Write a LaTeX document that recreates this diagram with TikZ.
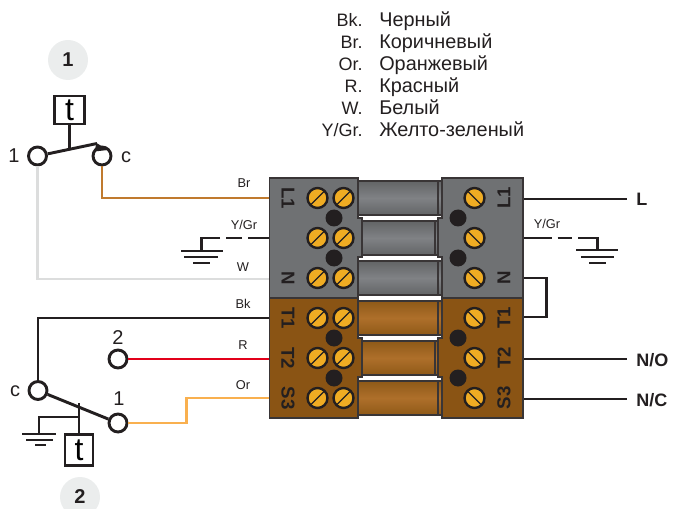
\documentclass[tikz,border=0pt]{standalone}
\usepackage{fontspec}
\setmainfont{Liberation Sans}
\definecolor{boxgrey}{HTML}{6F7173}
\definecolor{boxbrown}{HTML}{8A5414}
\definecolor{pipegrey}{HTML}{808285}
\definecolor{pipedark}{HTML}{626466}
\definecolor{pipebrown}{HTML}{AE6F2A}
\definecolor{pipedeep}{HTML}{8F5A18}
\definecolor{screwcol}{HTML}{F0AC23}
\definecolor{wireBr}{HTML}{C07A2E}
\definecolor{wireW}{HTML}{DCDDDD}
\definecolor{wireR}{HTML}{E2001A}
\definecolor{wireOr}{HTML}{F9B04F}
\definecolor{badgecol}{HTML}{EBEDED}
\definecolor{inkcol}{HTML}{231F20}
\usetikzlibrary{positioning}
\tikzset{
  wire/.style={line width=2.2pt,draw=inkcol},
  contact/.style={circle,draw=inkcol,fill=white,line width=2.2pt,minimum size=13.5pt,inner sep=0pt},
  tbox/.style={rectangle,draw=inkcol,line width=2.2pt,fill=white,inner sep=0pt,font=\fontsize{24}{24}\selectfont},
  badge/.style={circle,fill=badgecol,minimum size=30pt,inner sep=0pt,font=\fontsize{15}{15}\selectfont\bfseries,text=inkcol},
  pinlabel/.style={font=\fontsize{15}{15}\selectfont,text=inkcol,inner sep=0pt},
  wirelabel/.style={font=\fontsize{9.6}{9.6}\selectfont,text=inkcol,inner sep=0pt},
  endlabel/.style={font=\fontsize{13.5}{13.5}\selectfont\bfseries,text=inkcol,inner sep=0pt,anchor=west},
  termlabel/.style={font=\fontsize{14}{14}\selectfont\bfseries,text=inkcol,inner sep=0pt},
  legkey/.style={font=\fontsize{13.5}{13.5}\selectfont,text=inkcol,inner sep=0pt,anchor=base east},
  legtext/.style={font=\fontsize{14.9}{14.9}\selectfont,text=inkcol,inner sep=0pt,anchor=base west},
  block/.style={draw=inkcol!90,line width=1pt},
  earthdash/.style={wire,dash pattern=on 16.5pt off 4.5pt on 12pt off 4.5pt on 100pt},
}
\begin{document}
\begin{tikzpicture}[x=0.75pt,y=-0.75pt]
\path [use as bounding box,clip] (0,0) rectangle (673,509);
% legend
\foreach \y/\k/\v [count=\n] in {27/Bk./Черный,49/Br./Коричневый,71/Or./Оранжевый,93/R./Красный,115/W./Белый,137/Y\slash Gr./Желто-зеленый} {
  \node [legkey] (key\n) at (363,\y) {\k};
  \node [legtext] (val\n) at (379,\y) {\v};
}
% wire ends on the blocks
\coordinate (inBr) at (270,198);
\coordinate (inYG) at (270,238);
\coordinate (inW) at (270,279);
\coordinate (inBk) at (270,318);
\coordinate (inR) at (270,359);
\coordinate (inOr) at (270,398);
\coordinate (outL) at (523,199);
\coordinate (outYG) at (523,238);
\coordinate (outN) at (523,278);
\coordinate (outT) at (523,317);
\coordinate (outNO) at (523,359);
\coordinate (outNC) at (523,399);
% switch 1
\node [badge] (badge1) at (68,60) {1};
\node [tbox,minimum width=23pt,minimum height=21pt] (tbox1) at (69.5,110) {t};
\node [contact] (one1) at (37.5,156) {};
\node [contact] (com1) at (102,156) {};
\node [pinlabel] (lab1a) at (14,156) {1};
\node [pinlabel] (lab1c) at (126,157) {c};
\coordinate (tip1) at (97,143.5);
\coordinate (arm1) at (69.5,149.5);
\coordinate (bendW) at (37.5,279);
\draw [wire,draw=wireW] (one1) -- (bendW) -- (inW);
\draw [wire,draw=wireBr] (com1) |- (inBr);
\draw [wire] (tbox1) -- (arm1);
\draw [wire] (one1) -- (tip1);
\fill [inkcol] (96.5,143) -- (108,150) -- (94.5,151.5) -- cycle;
% switch 2
\node [contact] (com2) at (38,390.5) {};
\node [contact] (two2) at (118,359) {};
\node [contact] (one2) at (118,423) {};
\node [pinlabel] (lab2c) at (15,391) {c};
\node [pinlabel] (lab2b) at (118,338) {2};
\node [pinlabel] (lab2a) at (119,399) {1};
\node [tbox,minimum width=21pt,minimum height=23pt] (tbox2) at (79,450) {t};
\node [badge] (badge2) at (80,497) {2};
\coordinate (arm2) at (79,402.5);
\coordinate (bendBk) at (38,318);
\coordinate (gnd2) at (39,434);
\coordinate (join2) at (79,417);
\draw [wire] (com2) -- (bendBk) -- (inBk);
\draw [wire,draw=wireR] (two2) -- (inR);
\draw [wire,draw=wireOr] (one2) -- (186.5,423) -- (186.5,398) -- (inOr);
\draw [wire] (com2) -- (one2);
\draw [wire] (tbox2) -- (arm2);
\draw [wire] (join2) -| (gnd2);
\draw [wire] (22,434) -- (56,434);
\draw [wire] (26,440) -- (53,440);
\draw [wire] (35,445) -- (46,445);
% earth left
\coordinate (gndL) at (201.5,251);
\draw [earthdash] (inYG) -| (gndL);
\draw [wire] (181,251) -- (223,251);
\draw [wire] (184,257) -- (218,257);
\draw [wire] (193,263) -- (210,263);
% earth right
\coordinate (gndR) at (597.5,250);
\draw [wire,dash pattern=on 21.5pt off 4.5pt on 11pt off 4.5pt on 100pt] (outYG) -| (gndR);
\draw [wire] (576,250) -- (618,250);
\draw [wire] (581,257) -- (614,257);
\draw [wire] (589,263) -- (606,263);
% right side
\coordinate (endL) at (627,199);
\coordinate (endNO) at (627,359);
\coordinate (endNC) at (627,399);
\draw [wire] (outL) -- (endL);
\draw [wire] (outNO) -- (endNO);
\draw [wire] (outNC) -- (endNC);
\draw [wire] (outN) -- (546.5,278) -- (546.5,317) -- (outT);
\node [endlabel] (nameL) at (636,199.5) {L};
\node [endlabel] (nameNO) at (636,360) {N/O};
\node [endlabel] (nameNC) at (636,400) {N/C};
% wire labels
\node [wirelabel] (labBr) at (244,183) {Br};
\node [wirelabel] (labYG) at (244,225) {Y/Gr};
\node [wirelabel] (labW) at (243,267) {W};
\node [wirelabel] (labBk) at (243,304) {Bk};
\node [wirelabel] (labR) at (243,345) {R};
\node [wirelabel] (labOr) at (243,385) {Or};
\node [wirelabel] (labYG2) at (547,224) {Y/Gr};
% blocks, grey row then brown row
\foreach \o/\f/\p/\q in {0/boxgrey/pipedark/pipegrey,120/boxbrown/pipedeep/pipebrown} {
  \begin{scope}[shift={(0,\o)}]
    \foreach \y in {181,261} {
      \draw [block,top color=\p,bottom color=\p,middle color=\q] (358,\y) rectangle (438,\y+34);
      \draw [block,top color=\p,bottom color=\p,middle color=\q] (438,\y) rectangle (443,\y+34);
    }
    \draw [block,top color=\p,bottom color=\p,middle color=\q] (361,221) rectangle (435,255);
    \draw [block,top color=\p,bottom color=\p,middle color=\q] (435,221) rectangle (439,255);
    \draw [block,fill=\f] (269.5,178) -- (358,178) -- (358,218) -- (362,218) -- (362,257) -- (358,257) -- (358,298) -- (269.5,298) -- cycle;
    \draw [block,fill=\f] (442,178) -- (523,178) -- (523,298) -- (442,298) -- (442,257) -- (438,257) -- (438,218) -- (442,218) -- cycle;
    \foreach \y in {218,258} {
      \fill [inkcol] (334,\y) circle (8.5);
      \fill [inkcol] (458,\y) circle (8.5);
    }
    \foreach \y in {198,238,278} {
      \draw [line width=1.8pt,draw=inkcol,fill=screwcol] (317.5,\y) circle (10);
      \draw [line width=1.8pt,draw=inkcol,fill=screwcol] (343.5,\y) circle (10);
      \draw [line width=1.8pt,draw=inkcol,fill=screwcol] (474.5,\y) circle (10);
      \draw [line width=0.9pt,draw=inkcol] (317.5-7,\y+7) -- (317.5+7,\y-7);
      \draw [line width=0.9pt,draw=inkcol] (343.5-7,\y+7) -- (343.5+7,\y-7);
      \draw [line width=0.9pt,draw=inkcol] (474.5-7,\y-7) -- (474.5+7,\y+7);
    }
  \end{scope}
}
% terminal names
\foreach \y/\t [count=\n] in {198/L1,278/N,318/T1,358/T2,398/S3} {
  \node [termlabel,rotate=-90] (termA\n) at (288,\y) {\t};
  \node [termlabel,rotate=90] (termB\n) at (504,\y) {\t};
}
\end{tikzpicture}
\end{document}
